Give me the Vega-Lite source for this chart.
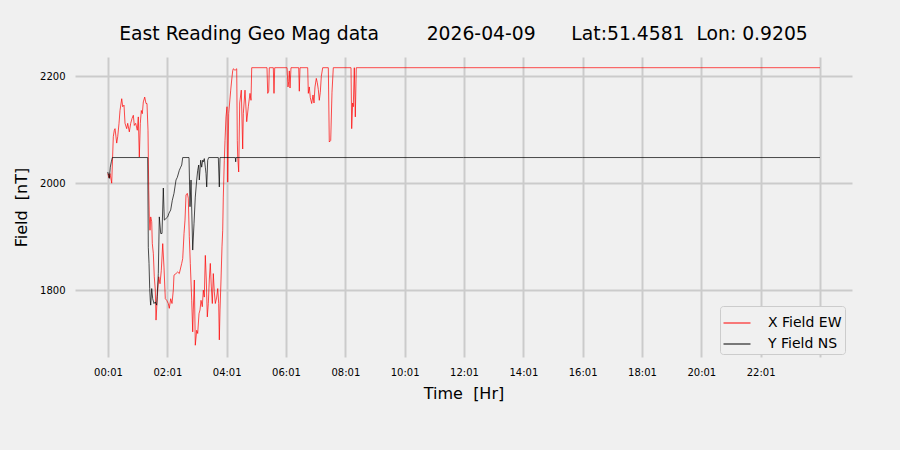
{
  "$schema": "https://vega.github.io/schema/vega-lite/v6.json",
  "width": 777,
  "height": 300,
  "autosize": {"type": "none"},
  "padding": {"left": 75, "top": 57, "right": 48, "bottom": 93},
  "background": "#f0f0f0",
  "title": {
    "text": "East Reading Geo Mag data\u00a0\u00a0\u00a0\u00a0\u00a0\u00a0\u00a0\u00a02026-04-09\u00a0\u00a0\u00a0\u00a0\u00a0\u00a0Lat:51.4581\u00a0\u00a0Lon: 0.9205",
    "font": "DejaVu Sans",
    "fontSize": 18.75,
    "fontWeight": "normal",
    "color": "#000000",
    "offset": 13
  },
  "data": {
    "values": [
      {"hour": 0.007, "nT": 2018, "series": "X Field EW"},
      {"hour": 0.050, "nT": 2010, "series": "X Field EW"},
      {"hour": 0.084, "nT": 2018, "series": "X Field EW"},
      {"hour": 0.141, "nT": 2000, "series": "X Field EW"},
      {"hour": 0.195, "nT": 2087, "series": "X Field EW"},
      {"hour": 0.229, "nT": 2099, "series": "X Field EW"},
      {"hour": 0.253, "nT": 2102, "series": "X Field EW"},
      {"hour": 0.310, "nT": 2075, "series": "X Field EW"},
      {"hour": 0.344, "nT": 2087, "series": "X Field EW"},
      {"hour": 0.388, "nT": 2112, "series": "X Field EW"},
      {"hour": 0.421, "nT": 2136, "series": "X Field EW"},
      {"hour": 0.479, "nT": 2158, "series": "X Field EW"},
      {"hour": 0.512, "nT": 2143, "series": "X Field EW"},
      {"hour": 0.556, "nT": 2146, "series": "X Field EW"},
      {"hour": 0.590, "nT": 2112, "series": "X Field EW"},
      {"hour": 0.647, "nT": 2102, "series": "X Field EW"},
      {"hour": 0.681, "nT": 2112, "series": "X Field EW"},
      {"hour": 0.735, "nT": 2096, "series": "X Field EW"},
      {"hour": 0.782, "nT": 2112, "series": "X Field EW"},
      {"hour": 0.826, "nT": 2121, "series": "X Field EW"},
      {"hour": 0.870, "nT": 2127, "series": "X Field EW"},
      {"hour": 0.903, "nT": 2108, "series": "X Field EW"},
      {"hour": 0.950, "nT": 2112, "series": "X Field EW"},
      {"hour": 1.004, "nT": 2099, "series": "X Field EW"},
      {"hour": 1.038, "nT": 2124, "series": "X Field EW"},
      {"hour": 1.072, "nT": 2049, "series": "X Field EW"},
      {"hour": 1.106, "nT": 2112, "series": "X Field EW"},
      {"hour": 1.139, "nT": 2136, "series": "X Field EW"},
      {"hour": 1.173, "nT": 2130, "series": "X Field EW"},
      {"hour": 1.207, "nT": 2152, "series": "X Field EW"},
      {"hour": 1.254, "nT": 2161, "series": "X Field EW"},
      {"hour": 1.298, "nT": 2149, "series": "X Field EW"},
      {"hour": 1.331, "nT": 2149, "series": "X Field EW"},
      {"hour": 1.365, "nT": 2099, "series": "X Field EW"},
      {"hour": 1.389, "nT": 1987, "series": "X Field EW"},
      {"hour": 1.409, "nT": 1937, "series": "X Field EW"},
      {"hour": 1.432, "nT": 1912, "series": "X Field EW"},
      {"hour": 1.456, "nT": 1937, "series": "X Field EW"},
      {"hour": 1.490, "nT": 1928, "series": "X Field EW"},
      {"hour": 1.510, "nT": 1887, "series": "X Field EW"},
      {"hour": 1.544, "nT": 1869, "series": "X Field EW"},
      {"hour": 1.577, "nT": 1825, "series": "X Field EW"},
      {"hour": 1.611, "nT": 1800, "series": "X Field EW"},
      {"hour": 1.635, "nT": 1744, "series": "X Field EW"},
      {"hour": 1.679, "nT": 1788, "series": "X Field EW"},
      {"hour": 1.726, "nT": 1825, "series": "X Field EW"},
      {"hour": 1.770, "nT": 1812, "series": "X Field EW"},
      {"hour": 1.813, "nT": 1837, "series": "X Field EW"},
      {"hour": 1.861, "nT": 1887, "series": "X Field EW"},
      {"hour": 1.904, "nT": 1843, "series": "X Field EW"},
      {"hour": 1.948, "nT": 1784, "series": "X Field EW"},
      {"hour": 1.995, "nT": 1781, "series": "X Field EW"},
      {"hour": 2.049, "nT": 1775, "series": "X Field EW"},
      {"hour": 2.083, "nT": 1766, "series": "X Field EW"},
      {"hour": 2.130, "nT": 1784, "series": "X Field EW"},
      {"hour": 2.174, "nT": 1775, "series": "X Field EW"},
      {"hour": 2.218, "nT": 1800, "series": "X Field EW"},
      {"hour": 2.241, "nT": 1828, "series": "X Field EW"},
      {"hour": 2.309, "nT": 1831, "series": "X Field EW"},
      {"hour": 2.366, "nT": 1834, "series": "X Field EW"},
      {"hour": 2.420, "nT": 1831, "series": "X Field EW"},
      {"hour": 2.501, "nT": 1850, "series": "X Field EW"},
      {"hour": 2.535, "nT": 1859, "series": "X Field EW"},
      {"hour": 2.579, "nT": 1906, "series": "X Field EW"},
      {"hour": 2.612, "nT": 1931, "series": "X Field EW"},
      {"hour": 2.646, "nT": 1978, "series": "X Field EW"},
      {"hour": 2.690, "nT": 1981, "series": "X Field EW"},
      {"hour": 2.723, "nT": 1972, "series": "X Field EW"},
      {"hour": 2.757, "nT": 1900, "series": "X Field EW"},
      {"hour": 2.791, "nT": 1850, "series": "X Field EW"},
      {"hour": 2.838, "nT": 1781, "series": "X Field EW"},
      {"hour": 2.872, "nT": 1722, "series": "X Field EW"},
      {"hour": 2.892, "nT": 1763, "series": "X Field EW"},
      {"hour": 2.926, "nT": 1819, "series": "X Field EW"},
      {"hour": 2.959, "nT": 1697, "series": "X Field EW"},
      {"hour": 3.007, "nT": 1725, "series": "X Field EW"},
      {"hour": 3.040, "nT": 1719, "series": "X Field EW"},
      {"hour": 3.084, "nT": 1756, "series": "X Field EW"},
      {"hour": 3.118, "nT": 1763, "series": "X Field EW"},
      {"hour": 3.152, "nT": 1781, "series": "X Field EW"},
      {"hour": 3.195, "nT": 1769, "series": "X Field EW"},
      {"hour": 3.229, "nT": 1800, "series": "X Field EW"},
      {"hour": 3.263, "nT": 1787, "series": "X Field EW"},
      {"hour": 3.297, "nT": 1865, "series": "X Field EW"},
      {"hour": 3.330, "nT": 1819, "series": "X Field EW"},
      {"hour": 3.364, "nT": 1750, "series": "X Field EW"},
      {"hour": 3.398, "nT": 1775, "series": "X Field EW"},
      {"hour": 3.431, "nT": 1819, "series": "X Field EW"},
      {"hour": 3.465, "nT": 1850, "series": "X Field EW"},
      {"hour": 3.499, "nT": 1806, "series": "X Field EW"},
      {"hour": 3.533, "nT": 1775, "series": "X Field EW"},
      {"hour": 3.566, "nT": 1831, "series": "X Field EW"},
      {"hour": 3.600, "nT": 1797, "series": "X Field EW"},
      {"hour": 3.634, "nT": 1775, "series": "X Field EW"},
      {"hour": 3.681, "nT": 1787, "series": "X Field EW"},
      {"hour": 3.715, "nT": 1803, "series": "X Field EW"},
      {"hour": 3.748, "nT": 1775, "series": "X Field EW"},
      {"hour": 3.769, "nT": 1707, "series": "X Field EW"},
      {"hour": 3.792, "nT": 1763, "series": "X Field EW"},
      {"hour": 3.826, "nT": 1819, "series": "X Field EW"},
      {"hour": 3.859, "nT": 1881, "series": "X Field EW"},
      {"hour": 3.883, "nT": 1912, "series": "X Field EW"},
      {"hour": 3.903, "nT": 1974, "series": "X Field EW"},
      {"hour": 3.937, "nT": 2043, "series": "X Field EW"},
      {"hour": 3.961, "nT": 2080, "series": "X Field EW"},
      {"hour": 3.994, "nT": 2124, "series": "X Field EW"},
      {"hour": 4.028, "nT": 2143, "series": "X Field EW"},
      {"hour": 4.052, "nT": 2002, "series": "X Field EW"},
      {"hour": 4.085, "nT": 2130, "series": "X Field EW"},
      {"hour": 4.153, "nT": 2174, "series": "X Field EW"},
      {"hour": 4.186, "nT": 2193, "series": "X Field EW"},
      {"hour": 4.220, "nT": 2210, "series": "X Field EW"},
      {"hour": 4.240, "nT": 2214, "series": "X Field EW"},
      {"hour": 4.298, "nT": 2211, "series": "X Field EW"},
      {"hour": 4.355, "nT": 2214, "series": "X Field EW"},
      {"hour": 4.375, "nT": 2080, "series": "X Field EW"},
      {"hour": 4.389, "nT": 2049, "series": "X Field EW"},
      {"hour": 4.422, "nT": 2021, "series": "X Field EW"},
      {"hour": 4.456, "nT": 2150, "series": "X Field EW"},
      {"hour": 4.510, "nT": 2174, "series": "X Field EW"},
      {"hour": 4.557, "nT": 2064, "series": "X Field EW"},
      {"hour": 4.578, "nT": 2130, "series": "X Field EW"},
      {"hour": 4.635, "nT": 2174, "series": "X Field EW"},
      {"hour": 4.692, "nT": 2115, "series": "X Field EW"},
      {"hour": 4.746, "nT": 2143, "series": "X Field EW"},
      {"hour": 4.803, "nT": 2168, "series": "X Field EW"},
      {"hour": 4.837, "nT": 2155, "series": "X Field EW"},
      {"hour": 4.861, "nT": 2216, "series": "X Field EW"},
      {"hour": 5.376, "nT": 2216, "series": "X Field EW"},
      {"hour": 5.400, "nT": 2168, "series": "X Field EW"},
      {"hour": 5.434, "nT": 2172, "series": "X Field EW"},
      {"hour": 5.454, "nT": 2216, "series": "X Field EW"},
      {"hour": 5.589, "nT": 2216, "series": "X Field EW"},
      {"hour": 5.612, "nT": 2168, "series": "X Field EW"},
      {"hour": 5.636, "nT": 2216, "series": "X Field EW"},
      {"hour": 6.051, "nT": 2216, "series": "X Field EW"},
      {"hour": 6.084, "nT": 2180, "series": "X Field EW"},
      {"hour": 6.108, "nT": 2190, "series": "X Field EW"},
      {"hour": 6.128, "nT": 2210, "series": "X Field EW"},
      {"hour": 6.152, "nT": 2178, "series": "X Field EW"},
      {"hour": 6.185, "nT": 2216, "series": "X Field EW"},
      {"hour": 6.445, "nT": 2216, "series": "X Field EW"},
      {"hour": 6.465, "nT": 2172, "series": "X Field EW"},
      {"hour": 6.489, "nT": 2216, "series": "X Field EW"},
      {"hour": 6.748, "nT": 2216, "series": "X Field EW"},
      {"hour": 6.769, "nT": 2168, "series": "X Field EW"},
      {"hour": 6.802, "nT": 2180, "series": "X Field EW"},
      {"hour": 6.836, "nT": 2160, "series": "X Field EW"},
      {"hour": 6.883, "nT": 2149, "series": "X Field EW"},
      {"hour": 6.927, "nT": 2165, "series": "X Field EW"},
      {"hour": 6.961, "nT": 2150, "series": "X Field EW"},
      {"hour": 6.994, "nT": 2180, "series": "X Field EW"},
      {"hour": 7.038, "nT": 2196, "series": "X Field EW"},
      {"hour": 7.072, "nT": 2188, "series": "X Field EW"},
      {"hour": 7.106, "nT": 2175, "series": "X Field EW"},
      {"hour": 7.139, "nT": 2155, "series": "X Field EW"},
      {"hour": 7.173, "nT": 2170, "series": "X Field EW"},
      {"hour": 7.207, "nT": 2200, "series": "X Field EW"},
      {"hour": 7.254, "nT": 2216, "series": "X Field EW"},
      {"hour": 7.443, "nT": 2216, "series": "X Field EW"},
      {"hour": 7.476, "nT": 2077, "series": "X Field EW"},
      {"hour": 7.524, "nT": 2080, "series": "X Field EW"},
      {"hour": 7.567, "nT": 2170, "series": "X Field EW"},
      {"hour": 7.611, "nT": 2216, "series": "X Field EW"},
      {"hour": 8.208, "nT": 2216, "series": "X Field EW"},
      {"hour": 8.231, "nT": 2102, "series": "X Field EW"},
      {"hour": 8.265, "nT": 2150, "series": "X Field EW"},
      {"hour": 8.285, "nT": 2143, "series": "X Field EW"},
      {"hour": 8.319, "nT": 2216, "series": "X Field EW"},
      {"hour": 8.353, "nT": 2124, "series": "X Field EW"},
      {"hour": 8.386, "nT": 2216, "series": "X Field EW"},
      {"hour": 8.780, "nT": 2216, "series": "X Field EW"},
      {"hour": 12.0, "nT": 2216, "series": "X Field EW"},
      {"hour": 16.0, "nT": 2216, "series": "X Field EW"},
      {"hour": 20.0, "nT": 2216, "series": "X Field EW"},
      {"hour": 24.017, "nT": 2216, "series": "X Field EW"},
      {"hour": 0.007, "nT": 2021, "series": "Y Field NS"},
      {"hour": 0.040, "nT": 2015, "series": "Y Field NS"},
      {"hour": 0.061, "nT": 2009, "series": "Y Field NS"},
      {"hour": 0.094, "nT": 2030, "series": "Y Field NS"},
      {"hour": 0.128, "nT": 2040, "series": "Y Field NS"},
      {"hour": 0.162, "nT": 2048, "series": "Y Field NS"},
      {"hour": 1.355, "nT": 2048, "series": "Y Field NS"},
      {"hour": 1.375, "nT": 1880, "series": "Y Field NS"},
      {"hour": 1.399, "nT": 1850, "series": "Y Field NS"},
      {"hour": 1.422, "nT": 1803, "series": "Y Field NS"},
      {"hour": 1.443, "nT": 1780, "series": "Y Field NS"},
      {"hour": 1.456, "nT": 1772, "series": "Y Field NS"},
      {"hour": 1.490, "nT": 1803, "series": "Y Field NS"},
      {"hour": 1.523, "nT": 1784, "series": "Y Field NS"},
      {"hour": 1.567, "nT": 1775, "series": "Y Field NS"},
      {"hour": 1.611, "nT": 1778, "series": "Y Field NS"},
      {"hour": 1.658, "nT": 1772, "series": "Y Field NS"},
      {"hour": 1.712, "nT": 1831, "series": "Y Field NS"},
      {"hour": 1.746, "nT": 1937, "series": "Y Field NS"},
      {"hour": 1.793, "nT": 1906, "series": "Y Field NS"},
      {"hour": 1.837, "nT": 1906, "series": "Y Field NS"},
      {"hour": 1.881, "nT": 1991, "series": "Y Field NS"},
      {"hour": 1.915, "nT": 1931, "series": "Y Field NS"},
      {"hour": 1.972, "nT": 1934, "series": "Y Field NS"},
      {"hour": 2.029, "nT": 1937, "series": "Y Field NS"},
      {"hour": 2.073, "nT": 1944, "series": "Y Field NS"},
      {"hour": 2.130, "nT": 1950, "series": "Y Field NS"},
      {"hour": 2.184, "nT": 1968, "series": "Y Field NS"},
      {"hour": 2.241, "nT": 1981, "series": "Y Field NS"},
      {"hour": 2.309, "nT": 2006, "series": "Y Field NS"},
      {"hour": 2.353, "nT": 2011, "series": "Y Field NS"},
      {"hour": 2.420, "nT": 2024, "series": "Y Field NS"},
      {"hour": 2.467, "nT": 2030, "series": "Y Field NS"},
      {"hour": 2.501, "nT": 2034, "series": "Y Field NS"},
      {"hour": 2.535, "nT": 2048, "series": "Y Field NS"},
      {"hour": 2.747, "nT": 2048, "series": "Y Field NS"},
      {"hour": 2.781, "nT": 1956, "series": "Y Field NS"},
      {"hour": 2.815, "nT": 2006, "series": "Y Field NS"},
      {"hour": 2.872, "nT": 1875, "series": "Y Field NS"},
      {"hour": 2.916, "nT": 1925, "series": "Y Field NS"},
      {"hour": 2.959, "nT": 1974, "series": "Y Field NS"},
      {"hour": 3.007, "nT": 2006, "series": "Y Field NS"},
      {"hour": 3.040, "nT": 2024, "series": "Y Field NS"},
      {"hour": 3.074, "nT": 2034, "series": "Y Field NS"},
      {"hour": 3.094, "nT": 2006, "series": "Y Field NS"},
      {"hour": 3.141, "nT": 2043, "series": "Y Field NS"},
      {"hour": 3.175, "nT": 2030, "series": "Y Field NS"},
      {"hour": 3.209, "nT": 2043, "series": "Y Field NS"},
      {"hour": 3.229, "nT": 2040, "series": "Y Field NS"},
      {"hour": 3.263, "nT": 2046, "series": "Y Field NS"},
      {"hour": 3.297, "nT": 2030, "series": "Y Field NS"},
      {"hour": 3.320, "nT": 2018, "series": "Y Field NS"},
      {"hour": 3.344, "nT": 1993, "series": "Y Field NS"},
      {"hour": 3.377, "nT": 2043, "series": "Y Field NS"},
      {"hour": 3.411, "nT": 2048, "series": "Y Field NS"},
      {"hour": 3.735, "nT": 2048, "series": "Y Field NS"},
      {"hour": 3.769, "nT": 1993, "series": "Y Field NS"},
      {"hour": 3.792, "nT": 2048, "series": "Y Field NS"},
      {"hour": 4.308, "nT": 2048, "series": "Y Field NS"},
      {"hour": 4.321, "nT": 2040, "series": "Y Field NS"},
      {"hour": 4.331, "nT": 2048, "series": "Y Field NS"},
      {"hour": 12.0, "nT": 2048, "series": "Y Field NS"},
      {"hour": 16.0, "nT": 2048, "series": "Y Field NS"},
      {"hour": 20.0, "nT": 2048, "series": "Y Field NS"},
      {"hour": 24.017, "nT": 2048, "series": "Y Field NS"}
    ]
  },
  "mark": {"type": "line", "strokeWidth": 0.7},
  "encoding": {
    "x": {
      "field": "hour",
      "type": "quantitative",
      "scale": {"domain": [-1.096, 25.096], "nice": false, "zero": false},
      "axis": {
        "title": "Time\u00a0\u00a0[Hr]",
        "values": [0.0167, 2.0167, 4.0167, 6.0167, 8.0167, 10.0167, 12.0167, 14.0167, 16.0167, 18.0167, 20.0167, 22.0167, 24.0167],
        "labelExpr": "datum.value > 23 ? '' : (floor(datum.value) < 10 ? '0' : '') + floor(datum.value) + ':01'",
        "labelPadding": 10,
        "titlePadding": 8
      }
    },
    "y": {
      "field": "nT",
      "type": "quantitative",
      "scale": {"domain": [1675, 2236], "nice": false, "zero": false},
      "axis": {
        "title": "Field\u00a0\u00a0[nT]",
        "values": [1800, 2000, 2200],
        "format": "d",
        "labelPadding": 10,
        "titlePadding": 10
      }
    },
    "color": {
      "field": "series",
      "type": "nominal",
      "scale": {"domain": ["X Field EW", "Y Field NS"], "range": ["#ff0000", "#000000"]},
      "legend": {
        "title": null,
        "orient": "none",
        "legendX": 645,
        "legendY": 249,
        "symbolType": "stroke",
        "symbolSize": 729,
        "symbolStrokeWidth": 1,
        "labelFont": "DejaVu Sans",
        "labelFontSize": 14,
        "labelColor": "#000000",
        "labelOffset": 17,
        "rowPadding": -6,
        "padding": 3,
        "fillColor": "#f0f0f0",
        "strokeColor": "#cccccc",
        "cornerRadius": 3
      }
    }
  },
  "config": {
    "view": {"stroke": null},
    "axis": {
      "domain": false,
      "ticks": false,
      "grid": true,
      "gridColor": "#cbcbcb",
      "gridWidth": 2,
      "labelFont": "DejaVu Sans",
      "labelFontSize": 10,
      "labelColor": "#000000",
      "titleFont": "DejaVu Sans",
      "titleFontSize": 16,
      "titleFontWeight": "normal",
      "titleColor": "#000000"
    }
  }
}
